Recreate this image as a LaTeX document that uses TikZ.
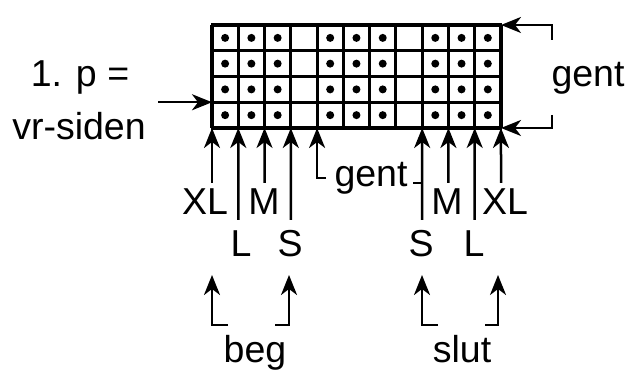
\documentclass[tikz,border=0pt]{standalone}
\usepackage{fontspec}
\setmainfont{Liberation Sans}
\usetikzlibrary{
  arrows.meta,
  positioning
}
\tikzset{
  pil/.style={-{Stealth[length=8pt,width=6.4pt,inset=2.4pt]},line width=1pt},
  streg/.style={line width=1pt},
  gitter/.style={line width=1.25pt},
  tekst/.style={inner sep=0pt,font=\fontsize{15}{18}\selectfont}
}
\begin{document}
\begin{tikzpicture}[x=0.4pt,y=-0.4pt]
    \useasboundingbox (0,0) rectangle (630,370);
    % gitteret: 11 masker x 4 pinde
    \foreach \i in {0,...,11}
      \coordinate (b\i) at (212+\i*26.27,128);
    \coordinate (ho) at (501,25);
    \coordinate (hn) at (501,128);
    \coordinate (vp) at (212,102.25);
    \foreach \i in {0,...,11}
      \draw[gitter] (212+\i*26.27,25) -- (b\i);
    \foreach \j in {0,...,4}
      \draw[gitter] (211.4,25+\j*25.75) -- (501.6,25+\j*25.75);
    \foreach \i in {0,1,2,4,5,6,8,9,10}
      \foreach \j in {0,...,3}
        \fill (225.1+\i*26.27,37.9+\j*25.75) circle (1.6pt);
    % venstre side
    \node[tekst,anchor=base] (p1) at (80,87) {1. p =};
    \node[tekst,anchor=base] (vr) at (79,140) {vr-siden};
    \coordinate (vstart) at (158,102.25);
    \draw[pil] (vstart) -- (vp);
    % hoejre side
    \node[tekst,anchor=base] (gentH) at (588,87) {gent};
    \coordinate (go) at (552,40);
    \coordinate (gn) at (552,115);
    \draw[pil] (go) |- (ho);
    \draw[pil] (gn) |- (hn);
    % pile under gitteret, begyndelsen
    \node[tekst,anchor=base] (XLv) at (205,215) {XL};
    \node[tekst,anchor=base] (Lv) at (241,257) {L};
    \node[tekst,anchor=base] (Mv) at (264,215) {M};
    \node[tekst,anchor=base] (Sv) at (290,257) {S};
    \coordinate (xlv) at (212,183);
    \coordinate (lv) at (238.3,220);
    \coordinate (mv) at (264.5,183);
    \coordinate (sv) at (290.8,220);
    \draw[pil] (xlv) -- (b0);
    \draw[pil] (lv) -- (b1);
    \draw[pil] (mv) -- (b2);
    \draw[pil] (sv) -- (b3);
    % gentagelse
    \node[tekst,anchor=base] (gentM) at (371,187) {gent};
    \coordinate (gv) at (326,178);
    \draw[pil] (gv) -| (b4);
    % slutningen
    \node[tekst,anchor=base] (Sh) at (421,257) {S};
    \node[tekst,anchor=base] (Mh) at (447,215) {M};
    \node[tekst,anchor=base] (Lh) at (474,257) {L};
    \node[tekst,anchor=base] (XLh) at (505,215) {XL};
    \coordinate (sh) at (422.2,220);
    \coordinate (mh) at (448.4,183);
    \coordinate (lh) at (474.7,220);
    \coordinate (xlh) at (501,183);
    \coordinate (gh) at (413,183);
    \draw[pil] (sh) -- (b8);
    \draw[pil] (mh) -- (b9);
    \draw[pil] (lh) -- (b10);
    \draw[pil] (xlh) -- (b11);
    \draw[streg] (gh) -- (gh -| sh);
    % beg og slut
    \node[tekst,anchor=base] (beg) at (255,363) {beg};
    \node[tekst,anchor=base] (slut) at (462,363) {slut};
    \coordinate (beg1) at (228,325);
    \coordinate (beg2) at (275,325);
    \coordinate (slut1) at (438,325);
    \coordinate (slut2) at (485,325);
    \draw[pil] (beg1) -| (212,275);
    \draw[pil] (beg2) -| (289,275);
    \draw[pil] (slut1) -| (422,275);
    \draw[pil] (slut2) -| (498,275);
\end{tikzpicture}
\end{document}
